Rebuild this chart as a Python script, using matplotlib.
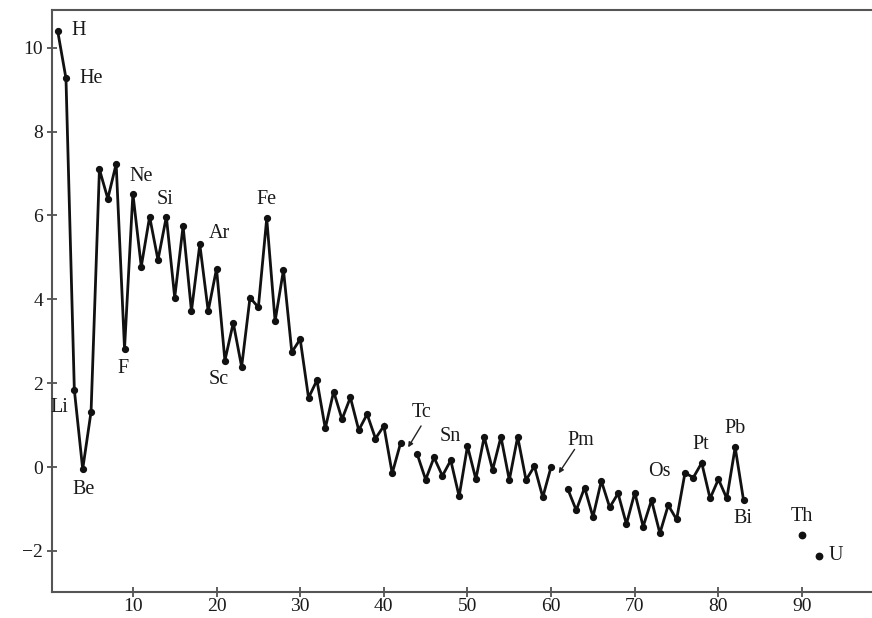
import numpy as np
import matplotlib
matplotlib.use("Agg")
import matplotlib.pyplot as plt

# Atomic numbers and log abundances (NaN = missing element, breaks the line)
Z = list(range(1, 84))
abund = [10.41, 9.27, 1.84, -0.05, 1.32, 7.10, 6.40, 7.23, 2.82, 6.52,
         4.78, 5.97, 4.94, 5.97, 4.04, 5.75, 3.72, 5.31, 3.72, 4.73,
         2.54, 3.44, 2.39, 4.04, 3.81, 5.93, 3.48, 4.70, 2.74, 3.05,
         1.65, 2.07, 0.92, 1.80, 1.14, 1.66, 0.88, 1.26, 0.68, 0.98,
         -0.15, 0.57, np.nan, 0.30, -0.30, 0.23, -0.21, 0.16, -0.70, 0.50,
         -0.29, 0.72, -0.07, 0.72, -0.31, 0.72, -0.31, 0.02, -0.72, 0.01,
         np.nan, -0.53, -1.03, -0.49, -1.19, -0.33, -0.96, -0.63, -1.36, -0.61,
         -1.42, -0.79, -1.58, -0.91, -1.25, -0.14, -0.25, 0.10, -0.75, -0.29,
         -0.75, 0.47, -0.79]
Z_iso = [90, 92]
abund_iso = [-1.62, -2.12]

labels = ["H", "He", "Li", "Be", "F", "Ne", "Si", "Ar", "Fe", "Sc",
          "Tc", "Sn", "Pm", "Os", "Pt", "Pb", "Bi", "Th", "U"]
label_x = [3.5, 5.0, 1.2, 4.15, 8.8, 11.0, 13.9, 20.3, 26.0, 20.3,
           44.5, 47.9, 63.6, 72.9, 77.9, 82.0, 82.9, 90.0, 94.0]
label_y = [10.41, 9.26, 1.41, -0.53, 2.36, 6.92, 6.37, 5.58, 6.37, 2.08,
           1.29, 0.72, 0.63, -0.11, 0.53, 0.92, -1.22, -1.17, -2.10]

xticks = [10, 20, 30, 40, 50, 60, 70, 80, 90]
yticks = [-2, 0, 2, 4, 6, 8, 10]

plt.rcParams['font.family'] = ['Liberation Serif', 'DejaVu Serif']
plt.rcParams['axes.unicode_minus'] = True

fig = plt.figure(figsize=(8.72, 6.18), dpi=100)
W, H = 872, 618
ax = fig.add_axes([52 / W, (H - 592) / H, (872 - 52) / W + 0.01, (592 - 10) / H])

ax.plot(Z, abund, color='#111111', lw=2.0, marker='o', ms=4.2,
        solid_joinstyle='miter')
ax.plot(Z_iso, abund_iso, ls='none', color='#111111', marker='o', ms=4.6)

for t, x, y in zip(labels, label_x, label_y):
    ax.text(x, y, t, ha='center', va='center', fontsize=14.5, color='#1a1a1a')

# arrows for Tc and Pm
ax.annotate('', xy=(42.9, 0.47), xytext=(44.45, 0.98),
            arrowprops=dict(arrowstyle='-|>', color='#222222', lw=1.0,
                            mutation_scale=7, shrinkA=0, shrinkB=0))
ax.annotate('', xy=(60.9, -0.15), xytext=(62.8, 0.42),
            arrowprops=dict(arrowstyle='-|>', color='#222222', lw=1.0,
                            mutation_scale=7, shrinkA=0, shrinkB=0))

ax.set_xlim(0.33, 99.4)
ax.set_ylim(-2.98, 10.9)
ax.set_xticks(xticks)
ax.set_yticks(yticks)
ax.tick_params(direction='inout', length=7, width=1.2, colors='#444444',
               labelcolor='#1a1a1a', labelsize=14, pad=3)
ax.tick_params(axis='x', pad=1)
for s in ['left', 'bottom', 'top']:
    ax.spines[s].set_color('#555555')
    ax.spines[s].set_linewidth(1.5)
ax.spines['right'].set_visible(False)

fig.savefig('out.png', dpi=100)
